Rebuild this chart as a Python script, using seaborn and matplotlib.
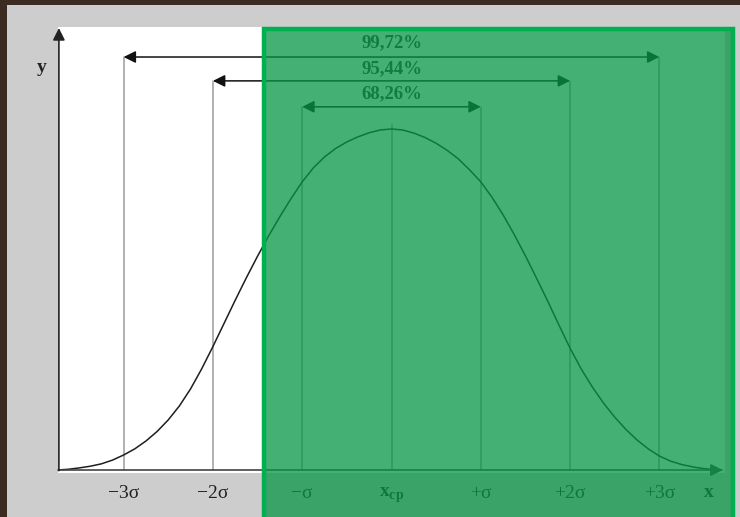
import numpy as np
import pandas as pd
import seaborn as sns
import matplotlib.pyplot as plt
from matplotlib.patches import Rectangle

# curve: x in sigma units, y relative to the peak
sigma_pos = [-3.75, -3.625, -3.5, -3.375, -3.25, -3.125, -3.0, -2.875, -2.75,
             -2.625, -2.5, -2.375, -2.25, -2.125, -2.0, -1.875, -1.75, -1.625,
             -1.5, -1.375, -1.25, -1.125, -1.0, -0.875, -0.75, -0.625, -0.5,
             -0.375, -0.25, -0.125, 0.0, 0.125, 0.25, 0.375, 0.5, 0.625, 0.75,
             0.875, 1.0, 1.125, 1.25, 1.375, 1.5, 1.625, 1.75, 1.875, 2.0,
             2.125, 2.25, 2.375, 2.5, 2.625, 2.75, 2.875, 3.0, 3.125, 3.25,
             3.375, 3.5, 3.625, 3.7]
curve_h = [0.0, 0.002, 0.006, 0.011, 0.018, 0.029, 0.044, 0.062, 0.085,
           0.113, 0.147, 0.188, 0.238, 0.297, 0.362, 0.43, 0.498, 0.564,
           0.627, 0.687, 0.743, 0.796, 0.845, 0.886, 0.918, 0.943, 0.962,
           0.977, 0.989, 0.997, 1.0, 0.997, 0.988, 0.975, 0.958, 0.937, 0.912,
           0.88, 0.845, 0.8, 0.748, 0.69, 0.628, 0.562, 0.495, 0.425, 0.357,
           0.296, 0.243, 0.196, 0.155, 0.119, 0.088, 0.062, 0.041, 0.026,
           0.016, 0.009, 0.004, 0.001, 0.0]

tick_pos = [-3, -2, -1, 0, 1, 2, 3]
tick_labels = ['\u22123\u03c3', '\u22122\u03c3', '\u2212\u03c3',
               r'$\mathbf{x}_{\mathbf{cp}}$', '+\u03c3', '+2\u03c3', '+3\u03c3']
pct_labels = ['99,72%', '95,44%', '68,26%']
pct_span = [3, 2, 1]

#############################
# style
sns.set_theme(style='white')
plt.rcParams['font.family'] = ['Liberation Serif', 'DejaVu Serif']
plt.rcParams['mathtext.fontset'] = 'custom'
plt.rcParams['mathtext.rm'] = 'Liberation Serif'
plt.rcParams['mathtext.bf'] = 'Liberation Serif:bold'
#############################

# arrow levels (in units of the peak height)
arrow_y = {3: 1.211, 2: 1.141, 1: 1.065}
text_y = {3: 1.252, 2: 1.176, 1: 1.103}

fig = plt.figure(figsize=(7.4, 5.17), dpi=100, facecolor='#3b2b20')
fig.add_artist(Rectangle((7/740, 0), 1, 1 - 5/517, transform=fig.transFigure,
                         facecolor='#cdcdcd', edgecolor='none', zorder=-10))

ax = fig.add_axes([58/740, 44/517, 667/740, 446/517])
ax.set_facecolor('white')
for sp in ax.spines.values():
    sp.set_visible(False)
ax.set_xlim(-3.735, 3.735)
ax.set_ylim(-0.0088, 1.299)

# vertical sigma lines
for s in tick_pos:
    top = arrow_y[abs(s)] if s != 0 else 1.012
    ax.plot([s, s], [0, top], color='#9c9c9c', lw=1.1, zorder=1)

# the curve
sns.lineplot(x=sigma_pos, y=curve_h, ax=ax, color='#1e1e1e', linewidth=1.1,
             zorder=3)

# percentage arrows
for lab, sp in zip(pct_labels, pct_span):
    ax.annotate('', xy=(sp, arrow_y[sp]), xytext=(-sp, arrow_y[sp]),
                arrowprops=dict(arrowstyle='<|-|>,head_length=0.4,head_width=0.2',
                                mutation_scale=18, color='#111111', lw=1.1,
                                shrinkA=0, shrinkB=0))
    ax.text(0, text_y[sp], lab, ha='center', va='center', fontsize=13.5,
            fontweight='bold', color='#333333')

# axes with arrows
ax.annotate('', xy=(3.71, 0), xytext=(-3.735, 0),
            arrowprops=dict(arrowstyle='-|>,head_length=0.4,head_width=0.2',
                            mutation_scale=18, color='#444444', lw=1.2,
                            shrinkA=0, shrinkB=0))
ax.annotate('', xy=(-3.725, 1.296), xytext=(-3.725, -0.002),
            arrowprops=dict(arrowstyle='-|>,head_length=0.4,head_width=0.2',
                            mutation_scale=18, color='#222222', lw=1.2,
                            shrinkA=0, shrinkB=0))

ax.set_xticks(tick_pos, labels=tick_labels)
ax.set_yticks([])
ax.tick_params(axis='x', length=0, pad=9, labelsize=14, colors='#222222')
ax.text(3.555, -0.067, 'x', ha='center', va='center', fontsize=14,
        fontweight='bold', color='#222222')
ax.text(-3.914, 1.179, 'y', ha='center', va='center', fontsize=14,
        fontweight='bold', color='#222222')
ax.set_xlabel('')
ax.set_ylabel('')

# green highlight over the right part
fig.add_artist(Rectangle((264/740, -0.05), (733 - 264)/740, 1 - 28.5/517 + 0.05,
                         transform=fig.transFigure,
                         facecolor=(7/255, 150/255, 70/255, 0.75),
                         edgecolor='#00b050', lw=3.2, zorder=20))

fig.savefig('out.png', dpi=100, facecolor=fig.get_facecolor())
